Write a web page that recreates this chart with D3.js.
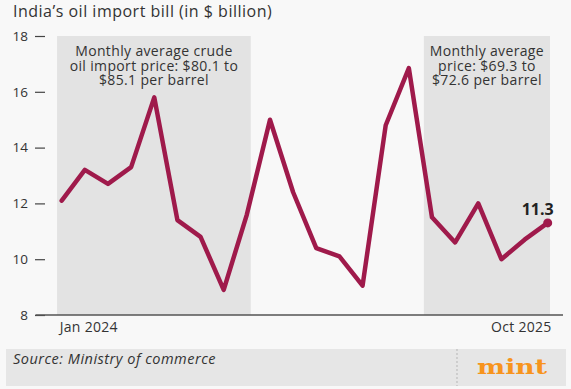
<!DOCTYPE html>
<html>
<head>
<meta charset="UTF-8">
<title>India's oil import bill</title>
<script src="https://d3js.org/d3.v7.min.js"></script>
<style>
  html, body { margin: 0; padding: 0; background: #f8f8f8; }
  svg { display: block; font-family: "Open Sans", sans-serif; }
</style>
</head>
<body>
<svg width="571" height="389"></svg>
<script>
// monthly oil import bill, $ billion
const months = ["Jan 2024", "Feb 2024", "Mar 2024", "Apr 2024", "May 2024", "Jun 2024",
                "Jul 2024", "Aug 2024", "Sep 2024", "Oct 2024", "Nov 2024", "Dec 2024",
                "Jan 2025", "Feb 2025", "Mar 2025", "Apr 2025", "May 2025", "Jun 2025",
                "Jul 2025", "Aug 2025", "Sep 2025", "Oct 2025"];
const bill = [12.1, 13.2, 12.7, 13.3, 15.8, 11.4, 10.8, 8.9, 11.6, 15.0, 12.4, 10.4,
              10.1, 9.05, 14.8, 16.85, 11.5, 10.6, 12.0, 10.0, 10.7, 11.3];
const yTicks = [8, 10, 12, 14, 16, 18];
const xLabels = ["Jan 2024", "Oct 2025"];

// shaded periods (month index, slightly padded) with their notes
const bandStart = [-0.2, 15.65];
const bandEnd = [8.17, 21.1];
const bandNotes = [
  ["Monthly average crude", "oil import price: $80.1 to", "$85.1 per barrel"],
  ["Monthly average", "price: $69.3 to", "$72.6 per barrel"]
];

const svg = d3.select("svg");

const x = d3.scaleLinear().domain([0, months.length - 1]).range([61.7, 547.7]);
const y = d3.scaleLinear().domain([8, 18]).range([315, 36]);

// title
svg.append("text")
  .attr("x", 13).attr("y", 17)
  .attr("font-size", 16)
  .attr("font-weight", 500)
  .attr("letter-spacing", 0.5)
  .attr("fill", "#333")
  .text("India\u2019s oil import bill (in $ billion)");

// bands
bandStart.forEach((s, i) => {
  const x0 = x(s), x1 = x(bandEnd[i]);
  svg.append("rect")
    .attr("x", x0).attr("y", y(18))
    .attr("width", x1 - x0).attr("height", y(8) - y(18))
    .attr("fill", "#e3e3e3");
  svg.append("text")
    .attr("text-anchor", "middle")
    .attr("font-size", 14)
    .attr("letter-spacing", 0.35)
    .attr("fill", "#333")
    .selectAll("tspan")
    .data(bandNotes[i])
    .join("tspan")
    .attr("x", (x0 + x1) / 2)
    .attr("y", (d, j) => 56 + j * 14.6)
    .text(d => d);
});

// y axis: labels with short dashes
const yAxis = svg.append("g")
  .attr("transform", "translate(45,0)")
  .call(d3.axisLeft(y).tickValues(yTicks).tickSize(10).tickPadding(7).tickFormat(d3.format("d")));
yAxis.select(".domain").remove();
yAxis.selectAll(".tick line").attr("stroke", "#444").attr("stroke-width", 1.2);
yAxis.selectAll(".tick text")
  .attr("font-family", "Open Sans, sans-serif")
  .attr("font-size", 13.5)
  .attr("fill", "#333");

// baseline
svg.append("line")
  .attr("x1", 35.5).attr("x2", 563)
  .attr("y1", y(8)).attr("y2", y(8))
  .attr("stroke", "#555").attr("stroke-width", 1.5);

// x labels
svg.append("text")
  .attr("x", x(months.indexOf(xLabels[0])) - 2).attr("y", 332)
  .attr("font-size", 14).attr("letter-spacing", 0.3).attr("fill", "#333")
  .text(xLabels[0]);
svg.append("text")
  .attr("x", x(months.indexOf(xLabels[1])) + 4).attr("y", 332)
  .attr("text-anchor", "end")
  .attr("font-size", 14).attr("letter-spacing", 0.3).attr("fill", "#333")
  .text(xLabels[1]);

// line
const line = d3.line()
  .x((d, i) => x(i))
  .y(d => y(d));

svg.append("path")
  .datum(bill)
  .attr("d", line)
  .attr("fill", "none")
  .attr("stroke", "#9f1a4b")
  .attr("stroke-width", 4.5)
  .attr("stroke-linejoin", "round")
  .attr("stroke-linecap", "round");

const last = bill.length - 1;
svg.append("circle")
  .attr("cx", x(last)).attr("cy", y(bill[last]))
  .attr("r", 4.5)
  .attr("fill", "#9f1a4b");

svg.append("text")
  .attr("x", x(last) + 6).attr("y", y(bill[last]) - 8)
  .attr("text-anchor", "end")
  .attr("font-size", 16)
  .attr("font-weight", 700)
  .attr("fill", "#222")
  .text(d3.format(".1f")(bill[last]));

// footer
svg.append("rect")
  .attr("x", 6).attr("y", 349)
  .attr("width", 560).attr("height", 37)
  .attr("fill", "#e6e6e6");
svg.append("line")
  .attr("x1", 457).attr("x2", 457)
  .attr("y1", 349).attr("y2", 386)
  .attr("stroke", "#b5b5b5")
  .attr("stroke-dasharray", "2,2");
svg.append("text")
  .attr("x", 13).attr("y", 364)
  .attr("font-size", 14.5)
  .attr("font-style", "italic")
  .attr("letter-spacing", 0.5)
  .attr("fill", "#333")
  .text("Source: Ministry of commerce");
svg.append("text")
  .attr("x", 477).attr("y", 374)
  .attr("font-family", "DejaVu Serif, serif")
  .attr("font-size", 21)
  .attr("font-weight", 700)
  .attr("fill", "#f7941d")
  .attr("textLength", 70)
  .attr("lengthAdjust", "spacingAndGlyphs")
  .text("mint");
</script>
</body>
</html>
